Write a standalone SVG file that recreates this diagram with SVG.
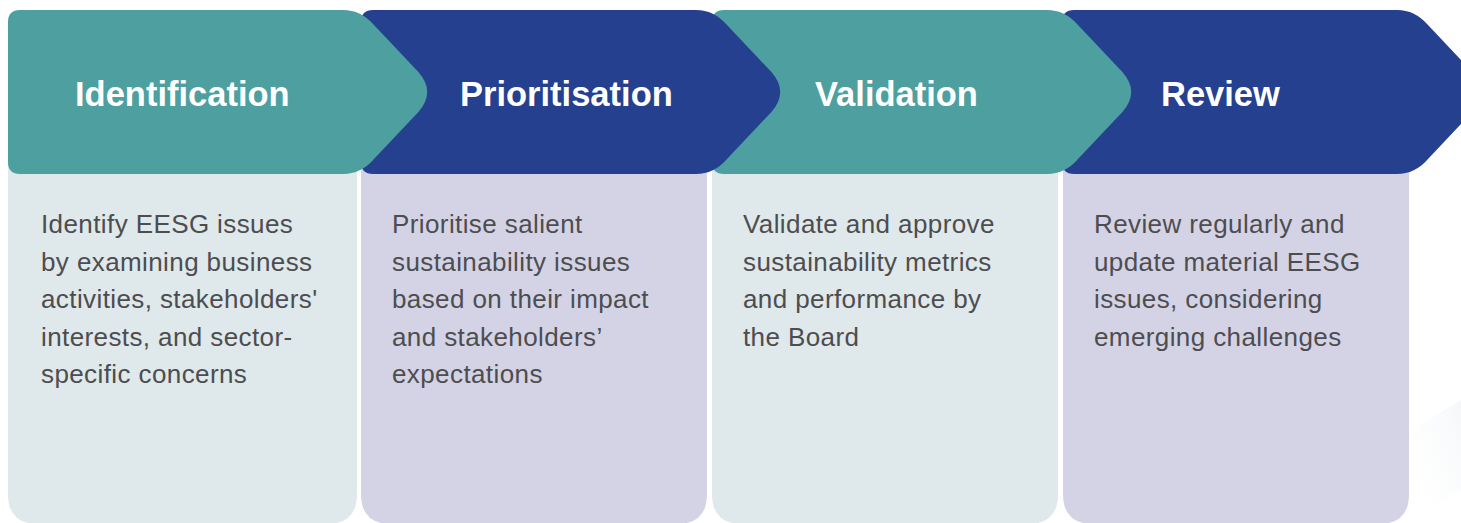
<svg xmlns="http://www.w3.org/2000/svg" width="1461" height="523" viewBox="0 0 1461 523">
  <defs>
    <style>
      .teal { fill: #4DA09F; }
      .navy { fill: #25408F; }
      .boxA { fill: #DFE8EA; }
      .boxB { fill: #D4D3E6; }
      .head { font-family: "Liberation Sans", Arial, sans-serif; font-weight: bold; font-size: 34.5px; fill: #FFFFFF; }
      .body { font-family: "Liberation Sans", Arial, sans-serif; font-size: 26px; letter-spacing: 0.4px; fill: #4D4D4F; }
    </style>
    <path id="chev" d="M12,10 H335 Q353,10 366,25 L410.4,72 Q428,92 410.4,112 L366,159 Q353,174 335,174 H12 Q0,174 0,162 V22 Q0,10 12,10 Z"/>
    <linearGradient id="streak" x1="0" y1="1" x2="1" y2="0">
      <stop offset="0" stop-color="#FFFFFF" stop-opacity="0"/>
      <stop offset="1" stop-color="#EDF1F4" stop-opacity="0.6"/>
    </linearGradient>
  </defs>
  <rect width="1461" height="523" fill="#FFFFFF"/>
  <polygon points="1412,523 1461,490 1461,400 1412,430" fill="url(#streak)"/>

  <!-- body boxes -->
  <g id="box-identification">
    <path class="boxA" d="M8,150 H357 V494 Q357,524 327,524 H38 Q8,524 8,494 Z"/>
    <text class="body" x="41" y="233">Identify EESG issues</text>
    <text class="body" x="41" y="270.5">by examining business</text>
    <text class="body" x="41" y="308">activities, stakeholders'</text>
    <text class="body" x="41" y="345.5">interests, and sector-</text>
    <text class="body" x="41" y="383">specific concerns</text>
  </g>
  <g id="box-prioritisation">
    <path class="boxB" d="M361,150 H707 V494 Q707,524 677,524 H391 Q361,524 361,494 Z"/>
    <text class="body" x="392" y="233">Prioritise salient</text>
    <text class="body" x="392" y="270.5">sustainability issues</text>
    <text class="body" x="392" y="308">based on their impact</text>
    <text class="body" x="392" y="345.5">and stakeholders’</text>
    <text class="body" x="392" y="383">expectations</text>
  </g>
  <g id="box-validation">
    <path class="boxA" d="M712,150 H1058 V494 Q1058,524 1028,524 H742 Q712,524 712,494 Z"/>
    <text class="body" x="743" y="233">Validate and approve</text>
    <text class="body" x="743" y="270.5">sustainability metrics</text>
    <text class="body" x="743" y="308">and performance by</text>
    <text class="body" x="743" y="345.5">the Board</text>
  </g>
  <g id="box-review">
    <path class="boxB" d="M1063,150 H1409 V494 Q1409,524 1379,524 H1093 Q1063,524 1063,494 Z"/>
    <text class="body" x="1094" y="233">Review regularly and</text>
    <text class="body" x="1094" y="270.5">update material EESG</text>
    <text class="body" x="1094" y="308">issues, considering</text>
    <text class="body" x="1094" y="345.5">emerging challenges</text>
  </g>

  <!-- header chevrons (drawn right to left so earlier ones overlap) -->
  <g id="step-review">
    <use href="#chev" class="navy" transform="translate(1062,0)"/>
    <text class="head" x="1161" y="106">Review</text>
  </g>
  <g id="step-validation">
    <use href="#chev" class="teal" transform="translate(712,0)"/>
    <text class="head" x="815" y="106">Validation</text>
  </g>
  <g id="step-prioritisation">
    <use href="#chev" class="navy" transform="translate(361,0)"/>
    <text class="head" x="460" y="106">Prioritisation</text>
  </g>
  <g id="step-identification">
    <use href="#chev" class="teal" transform="translate(8,0)"/>
    <text class="head" x="75" y="106">Identification</text>
  </g>

  <g id="connectors"/>
</svg>
